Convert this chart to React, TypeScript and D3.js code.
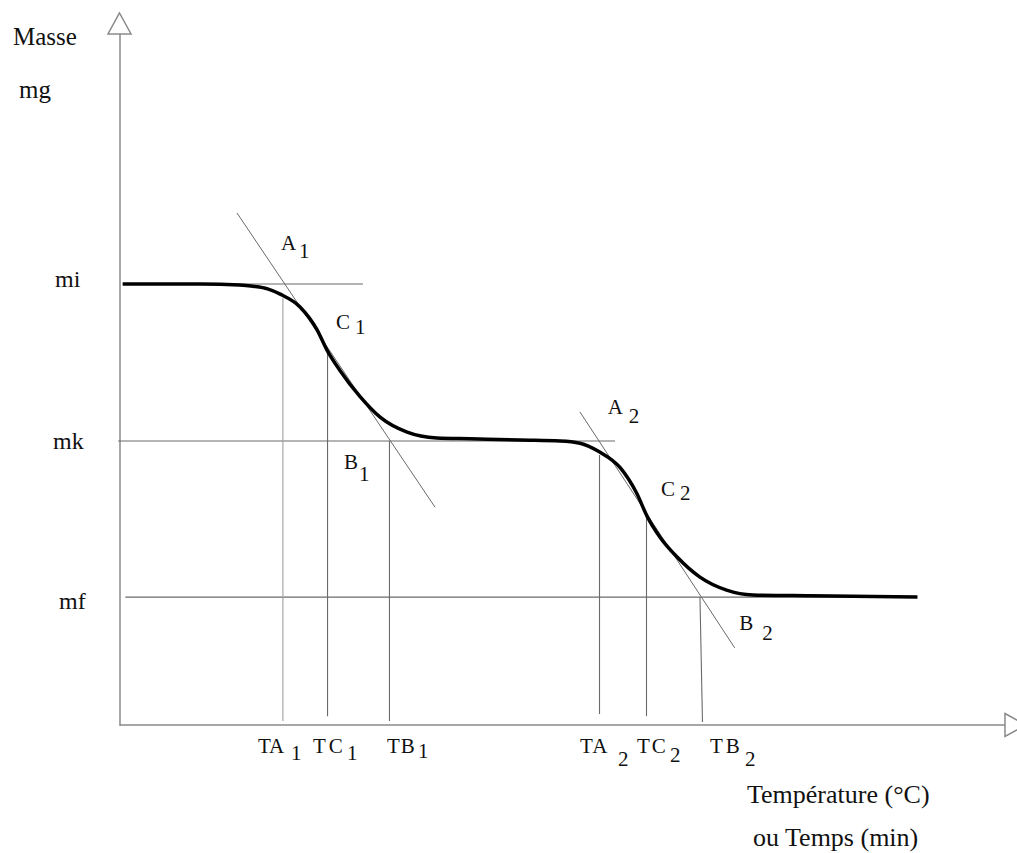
import React from "react";
import * as d3 from "d3";

// ---- data (temperature in °C-like units, mass in mg-like units) ----
const curveT = [3, 90, 133, 148, 164, 178, 200, 219, 230, 244, 267, 289, 319, 352, 389, 444, 489, 511, 533, 556, 574, 586, 600, 619, 644, 674, 703, 767, 886];
const curveM = [10, 10, 9.98, 9.95, 9.89, 9.77, 9.48, 8.96, 8.5, 8.05, 7.44, 6.98, 6.64, 6.51, 6.49, 6.46, 6.44, 6.39, 6.19, 5.83, 5.26, 4.72, 4.26, 3.81, 3.36, 3.06, 2.95, 2.93, 2.9];

const levelNames = ["mi", "mk", "mf"];
const levelValues = [10, 6.44, 2.9];
const levelStartT = [3, -2, 6];
const levelEndT = [270, 550, 886];

// tangents: [t0, m0, t1, m1]
const tangent1 = [130, 11.61, 350, 4.94];
const tangent2 = [511, 7.1, 683, 1.75];

// vertical drop lines: top T, top m, bottom T, bottom m
const dropNames = ["TA", "TC", "TB", "TA", "TC", "TB"];
const dropSubs = ["1", "1", "1", "2", "2", "2"];
const dropTopT = [181, 230.6, 299.4, 532.8, 585, 644.4];
const dropTopM = [9.68, 8.5, 6.44, 6.12, 4.72, 2.9];
const dropBotT = [181, 230.6, 299.4, 532.8, 585, 647.2];
const dropBotM = [0.09, 0.2, 0.09, 0.25, 0.2, 0.07];

// point labels (letter anchor in data units)
const ptNames = ["A", "C", "B", "A", "C", "B"];
const ptSubs = ["1", "1", "1", "2", "2", "2"];
const ptT = [179, 240, 249, 542, 601, 688];
const ptM = [10.77, 8.98, 5.8, 7.05, 5.2, 2.16];

const xMax = 983.3;
const yMax = 15.67;

const W = 1017;
const H = 853;

const x = d3.scaleLinear().domain([0, 1000]).range([120, 1020]);
const y = d3.scaleLinear().domain([0, 10]).range([725, 284]);

const FONT = "'Liberation Serif', 'Times New Roman', serif";

// label offsets (style)
const subDx = [18, 19, 15, 21, 19, 23];
const subDy = [8, 5, 12, 9, 4, 10];
const dropLabelDx = [-25, -14.5, -2.5, -19.5, -9.5, 7.5];
const dropSubDx = [8, 19.5, 28.5, 18.5, 23.5, 42.5];
const dropSubDy = [7, 7, 5, 13, 9, 13];
const dropLetterSpacing = [0, 3, 1, 1, 2, 3];

export default function App() {
  const pts: [number, number][] = curveT.map((t, i) => [t, curveM[i]]);
  const line = d3
    .line<[number, number]>()
    .x((d) => x(d[0]))
    .y((d) => y(d[1]))
    .curve(d3.curveMonotoneX);

  const thin = "#6a6a6a";
  const axisColor = "#8a8a8a";
  const ax0 = x(0);
  const ay0 = y(0);
  const yTop = y(yMax);
  const xEnd = x(xMax);

  return (
    <svg
      width={W}
      height={H}
      style={{ position: "absolute", left: 0, top: 0, display: "block", background: "#fff" }}
      fontFamily={FONT}
    >
      <rect x={0} y={0} width={W} height={H} fill="#fff" />
      {/* axes */}
      <line x1={ax0} y1={ay0 + 1} x2={ax0} y2={yTop} stroke={axisColor} strokeWidth={1.5} />
      <line x1={ax0} y1={ay0} x2={xEnd} y2={ay0} stroke={axisColor} strokeWidth={1.5} />
      <polygon
        points={`${ax0 - 0.5},${yTop - 21} ${ax0 - 12},${yTop} ${ax0 + 11},${yTop}`}
        fill="#fff"
        stroke={axisColor}
        strokeWidth={1.5}
      />
      <polygon
        points={`${xEnd},${ay0 - 11.5} ${xEnd + 21},${ay0} ${xEnd},${ay0 + 11.5}`}
        fill="#fff"
        stroke={axisColor}
        strokeWidth={1.5}
      />

      {/* level lines */}
      {levelValues.map((v, i) => (
        <line
          key={"lv" + i}
          x1={x(levelStartT[i])}
          x2={x(levelEndT[i])}
          y1={y(v)}
          y2={y(v)}
          stroke={thin}
          strokeWidth={1.2}
        />
      ))}

      {/* tangents */}
      {[tangent1, tangent2].map((t, i) => (
        <line
          key={"tg" + i}
          x1={x(t[0])}
          y1={y(t[1])}
          x2={x(t[2])}
          y2={y(t[3])}
          stroke={thin}
          strokeWidth={1}
        />
      ))}

      {/* drop lines */}
      {dropTopT.map((t, i) => (
        <line
          key={"dl" + i}
          x1={x(t)}
          y1={y(dropTopM[i])}
          x2={x(dropBotT[i])}
          y2={y(dropBotM[i])}
          stroke={i === 0 ? "#a0a0a0" : thin}
          strokeWidth={1.1}
        />
      ))}

      {/* curve */}
      <path d={line(pts) || ""} fill="none" stroke="#000" strokeWidth={3.5} strokeLinejoin="round" />

      {/* axis labels */}
      <text x={13} y={45} fontSize={25} fill="#111">Masse</text>
      <text x={19} y={98} fontSize={25} fill="#111">mg</text>
      {levelNames.map((n, i) => (
        <text key={"ln" + i} x={[55, 53, 59][i]} y={y(levelValues[i]) + [3, 8, 12][i]} fontSize={24} fill="#111">
          {n}
        </text>
      ))}
      <text x={747} y={803} fontSize={26} fill="#111">Température (°C)</text>
      <text x={753} y={846} fontSize={26} fill="#111">ou Temps (min)</text>

      {/* point labels */}
      {ptNames.map((n, i) => (
        <g key={"pl" + i} fontSize={21} fill="#111">
          <text x={x(ptT[i])} y={y(ptM[i])}>{n}</text>
          <text x={x(ptT[i]) + subDx[i]} y={y(ptM[i]) + subDy[i]}>{ptSubs[i]}</text>
        </g>
      ))}

      {/* drop labels */}
      {dropNames.map((n, i) => (
        <g key={"dlb" + i} fontSize={21} fill="#111">
          <text x={x(dropBotT[i]) + dropLabelDx[i]} y={ay0 + 28} letterSpacing={dropLetterSpacing[i]}>
            {n}
          </text>
          <text x={x(dropBotT[i]) + dropSubDx[i]} y={ay0 + 28 + dropSubDy[i]}>{dropSubs[i]}</text>
        </g>
      ))}
    </svg>
  );
}
